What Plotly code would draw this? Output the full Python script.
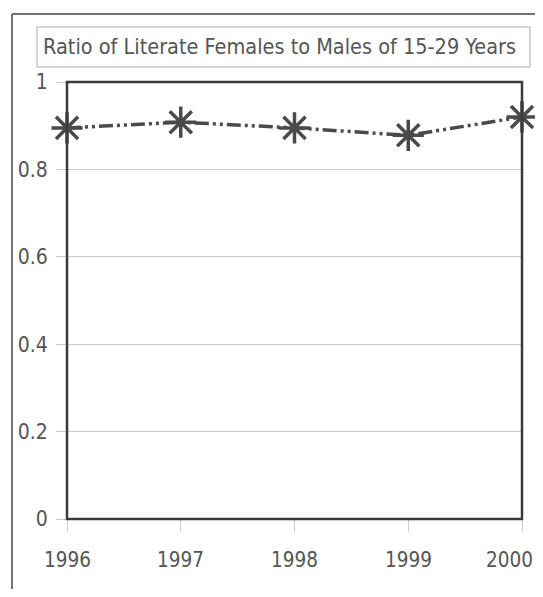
"""Ratio of literate females to males, aged 15-29."""

import plotly.graph_objects as go

years = [1996, 1997, 1998, 1999, 2000]
ratio = [0.895, 0.908, 0.895, 0.878, 0.920]
y_ticks = [0, 0.2, 0.4, 0.6, 0.8, 1]
y_tick_text = ["0", "0.2", "0.4", "0.6", "0.8", "1"]
title_text = "Ratio of Literate Females to Males of 15-29 Years"

# page body has an 8px margin, so the figure starts at (8, 8);
# keep it small enough that no scrollbar appears
OFF = 8
W, H = 543 - 2 * OFF, 597 - 2 * OFF
L, T = 67 - OFF, 82 - OFF
R = W - (522 - OFF)
B = H - (519 - OFF)
PW, PH = W - L - R, H - T - B


def px(x):
    # page pixel x -> paper x
    return (x - OFF - L) / PW


def py(y):
    # page pixel y (from top) -> paper y
    return (H - B - (y - OFF)) / PH


fig = go.Figure()

fig.add_trace(
    go.Scatter(
        x=years,
        y=ratio,
        mode="lines+markers",
        line=dict(color="#4a4a4a", width=3.5, dash="14px,4px,3px,4px,3px,4px"),
        marker=dict(
            symbol="asterisk-open",
            size=26,
            line=dict(color="#4a4a4a", width=3.5),
        ),
        cliponaxis=False,
        showlegend=False,
    )
)

font_family = "DejaVu Sans Condensed, Liberation Sans Narrow, Liberation Sans, sans-serif"

# year labels as annotations so the last one can hug the right edge
year_labels = []
for i, yr in enumerate(years):
    last = i == len(years) - 1
    year_labels.append(
        dict(
            text=str(yr),
            x=yr, xref="x",
            y=0, yref="y",
            xanchor="right" if last else "center",
            xshift=13 if last else 0,
            yanchor="top",
            yshift=-27,
            showarrow=False,
            font=dict(size=20.5, color="#555555", family=font_family),
        )
    )

fig.update_layout(
    width=W,
    height=H,
    margin=dict(l=L, r=R, t=T, b=B, autoexpand=False),
    paper_bgcolor="white",
    plot_bgcolor="white",
    font=dict(family=font_family, color="#555555", size=20),
    xaxis=dict(
        range=[1996, 2000],
        tickvals=years,
        showticklabels=False,
        showgrid=False,
        zeroline=False,
        automargin=False,
        ticks="outside",
        ticklen=12,
        tickcolor="#d0d0d0",
        tickwidth=1,
    ),
    yaxis=dict(
        range=[0, 1],
        tickvals=y_ticks,
        ticktext=y_tick_text,
        showgrid=True,
        gridcolor="#c8c8c8",
        gridwidth=1,
        zeroline=False,
        automargin=False,
        ticks="outside",
        ticklen=10,
        tickcolor="#c8c8c8",
        tickwidth=1,
        ticklabelstandoff=4,
        tickfont=dict(size=21, color="#555555"),
    ),
    shapes=[
        # outer frame (left and top edges; the rest runs off the page)
        dict(
            type="line", xref="paper", yref="paper",
            x0=px(12), x1=px(12), y0=py(14), y1=py(620),
            line=dict(color="#444444", width=1.5),
        ),
        dict(
            type="line", xref="paper", yref="paper",
            x0=px(12), x1=px(620), y0=py(14), y1=py(14),
            line=dict(color="#444444", width=1.5),
        ),
        # title box
        dict(
            type="rect", xref="paper", yref="paper",
            x0=px(37), x1=px(530), y0=py(67), y1=py(27),
            line=dict(color="#aaaaaa", width=1),
        ),
        # plot frame
        dict(
            type="rect", xref="paper", yref="paper",
            x0=0, x1=1, y0=0, y1=1,
            line=dict(color="#3a3a3a", width=2.5),
        ),
    ],
    annotations=[
        dict(
            text=title_text,
            xref="paper", yref="paper",
            x=px(41), y=py(47),
            xanchor="left", yanchor="middle",
            showarrow=False,
            font=dict(size=21.5, color="#555555", family=font_family),
        )
    ] + year_labels,
)

fig.write_html("out.html")
